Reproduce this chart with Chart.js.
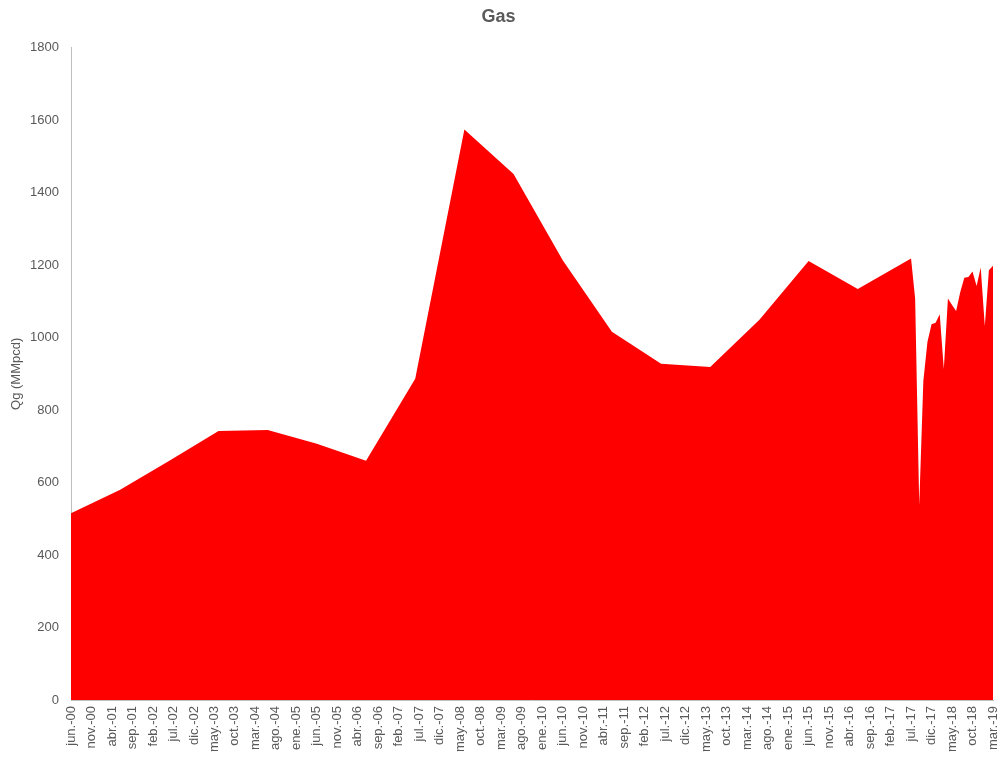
<!DOCTYPE html>
<html>
<head>
<meta charset="utf-8">
<title>Gas</title>
<script src="https://cdn.jsdelivr.net/npm/chart.js@4/dist/chart.umd.min.js"></script>
<style>
  html, body { margin: 0; padding: 0; background: #fff; }
  #wrap { width: 1001px; height: 759px; }
</style>
</head>
<body>
<div id="wrap"><canvas id="myChart" width="1001" height="759"></canvas></div>
<script>
// fechas (año-mes) y producción de gas Qg en MMpcd
const fechas = [
  "2000-06", "2001-06", "2002-06", "2003-06", "2004-06", "2005-06",
  "2006-06", "2007-06", "2008-06", "2009-06", "2010-06", "2011-06",
  "2012-06", "2013-06", "2014-06", "2015-06", "2016-06",
  "2017-07", "2017-08", "2017-09", "2017-10", "2017-11", "2017-12",
  "2018-01", "2018-02", "2018-03", "2018-04", "2018-05", "2018-06",
  "2018-07", "2018-08", "2018-09", "2018-10", "2018-11", "2018-12",
  "2019-01", "2019-02", "2019-03"
];
const gas = [
  515, 580, 660, 742, 745, 707,
  660, 886, 1574, 1451, 1213, 1016,
  928, 919, 1049, 1211, 1134,
  1218, 1108, 537, 880, 988, 1037,
  1041, 1064, 913, 1108, 1090, 1073,
  1125, 1165, 1167, 1182, 1142, 1193,
  1032, 1186, 1198
];
const meses = ["ene", "feb", "mar", "abr", "may", "jun", "jul", "ago", "sep", "oct", "nov", "dic"];
const inicio = "2000-06";
const fin = "2019-03";
const yTicks = [0, 200, 400, 600, 800, 1000, 1200, 1400, 1600, 1800];

function mesIndex(f){
  const [y, m] = f.split("-").map(n => parseInt(n, 10));
  const [y0, m0] = inicio.split("-").map(n => parseInt(n, 10));
  return (y - y0) * 12 + (m - m0);
}

function etiqueta(i){
  const m0 = parseInt(inicio.split("-")[1], 10) - 1;
  const y0 = parseInt(inicio.split("-")[0], 10);
  const total = m0 + i;
  const mes = meses[total % 12];
  const anio = (y0 + Math.floor(total / 12)) % 100;
  return `${mes}.-${String(anio).padStart(2, "0")}`;
}

const puntos = fechas.map((f, i) => ({ x: mesIndex(f), y: gas[i] }));
const gris = "#595959";
const fuente = "'Liberation Sans', Arial, sans-serif";

const ctx = document.getElementById("myChart").getContext("2d");
const myChart = new Chart(ctx, {
  type: "line",
  data: {
    datasets: [
      {
        label: "Gas",
        data: puntos,
        borderColor: "#ff0000",
        backgroundColor: "#ff0000",
        borderWidth: 0,
        pointRadius: 0,
        fill: "origin",
        tension: 0
      }
    ]
  },
  options: {
    responsive: false,
    animation: false,
    layout: {
      padding: { left: 4, right: 8, top: 0, bottom: 0 }
    },
    plugins: {
      legend: { display: false },
      tooltip: { enabled: false },
      title: {
        display: true,
        text: "Gas",
        color: gris,
        font: { family: fuente, size: 18, weight: "bold" },
        padding: { top: 6, bottom: 20 }
      }
    },
    scales: {
      x: {
        type: "linear",
        min: 0,
        max: mesIndex(fin),
        grid: { display: false, drawTicks: false },
        border: { display: true, color: "#bfbfbf", width: 1 },
        ticks: {
          stepSize: 5,
          autoSkip: false,
          maxRotation: 90,
          minRotation: 90,
          padding: 6,
          color: gris,
          font: { family: fuente, size: 13 },
          callback: v => etiqueta(v)
        },
        afterFit: scale => {
          scale.height = 59;
          scale.paddingLeft = 0;
          scale.paddingRight = 0;
        }
      },
      y: {
        min: 0,
        max: 1800,
        grid: { display: false, drawTicks: false },
        border: { display: true, color: "#bfbfbf", width: 1 },
        afterBuildTicks: scale => { scale.ticks = yTicks.map(v => ({ value: v })); },
        ticks: {
          padding: 12,
          color: gris,
          font: { family: fuente, size: 13 },
          callback: v => String(v)
        },
        title: {
          display: true,
          text: "Qg (MMpcd)",
          color: gris,
          font: { family: fuente, size: 13 },
          padding: { top: 5, bottom: 4 }
        },
        afterFit: scale => {
          scale.width = 67;
          scale.paddingTop = 0;
          scale.paddingBottom = 0;
        }
      }
    }
  }
});
</script>
</body>
</html>
